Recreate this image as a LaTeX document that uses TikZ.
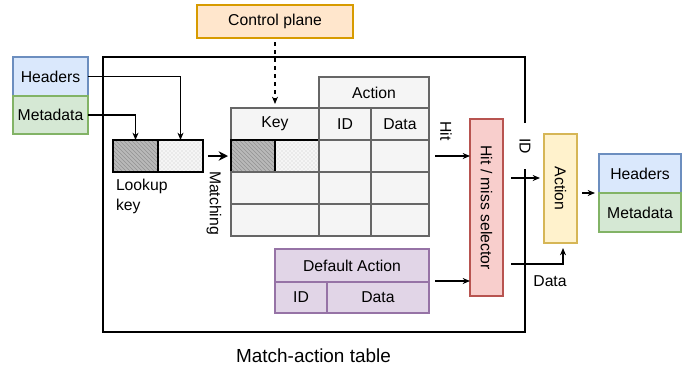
\documentclass[tikz,border=0pt]{standalone}
\usepackage{fontspec}
\setmainfont{Liberation Sans}
\usetikzlibrary{arrows.meta,patterns}
\newdimen\pxd \pxd=0.75pt
\newcommand\dfont{\fontsize{11.8pt}{14pt}\selectfont}
\definecolor{ctrlfill}{HTML}{FFE6CC}\definecolor{ctrldraw}{HTML}{D79B00}
\definecolor{blfill}{HTML}{DAE8FC}\definecolor{bldraw}{HTML}{6C8EBF}
\definecolor{grfill}{HTML}{D5E8D4}\definecolor{grdraw}{HTML}{82B366}
\definecolor{rdfill}{HTML}{F8CECC}\definecolor{rddraw}{HTML}{B85450}
\definecolor{yefill}{HTML}{FFF2CC}\definecolor{yedraw}{HTML}{D6B656}
\definecolor{pufill}{HTML}{E1D5E7}\definecolor{pudraw}{HTML}{9673A6}
\definecolor{cellfill}{HTML}{F5F5F5}\definecolor{celldraw}{HTML}{666666}
\tikzset{
  every node/.style={font=\dfont, inner sep=0pt, outer sep=0pt},
  bx/.style 2 args={draw=#1, fill=#2, line width=0.8pt},
  cell/.style={draw=celldraw, fill=cellfill, line width=0.8pt},
  arr/.style={-{Stealth[length=5.5pt,width=4.5pt]}, line width=0.8pt},
  darkhatch/.style={draw=black, line width=0.8pt, preaction={fill=gray!55}, pattern=north west lines, pattern color=gray!85},
  lightdots/.style={draw=black, line width=0.8pt, preaction={fill=gray!8}, pattern=crosshatch dots, pattern color=gray!45},
  sz/.style 2 args={minimum width=#1\pxd, minimum height=#2\pxd},
}
\begin{document}
\begin{tikzpicture}[x=\pxd, y=-\pxd]
\useasboundingbox (0,0) rectangle (685,369);

% outer match-action table frame
\coordinate (frA) at (525,123);
\coordinate (frB) at (525,169);
\draw[line width=0.8pt] (frA) -- (525,57) -- (103,57) -- (103,332) -- (525,332) -- (frB);
\node[font=\fontsize{14.2pt}{17pt}\selectfont] (matl) at (313.5,356) {Match-action table};

% control plane
\node[bx={ctrldraw}{ctrlfill}, sz={156}{33}] (ctrl) at (275,21.5) {Control plane};

% left headers / metadata
\node[bx={bldraw}{blfill}, sz={75}{39}] (hdrL) at (50.5,76.5) {Headers};
\node[bx={grdraw}{grfill}, sz={75}{38}] (metaL) at (50.5,115) {Metadata};

% lookup key
\node[darkhatch, sz={45}{32}] (lk1) at (135.5,156) {};
\node[lightdots, sz={45}{32}] (lk2) at (180.5,156) {};
\node[anchor=north west, align=left] (lkl) at (116,179) {Lookup\\[1pt]key};

% table
\node[cell, sz={110}{31}] (acth) at (374,92.5) {Action};
\node[cell, sz={88}{32}] (keyh) at (275,124) {Key};
\node[cell, sz={52}{32}] (idh) at (345,124) {ID};
\node[cell, sz={58}{32}] (dath) at (400,124) {Data};
\node[darkhatch, sz={44}{32}] (k1) at (253,156) {};
\node[lightdots, sz={44}{32}] (k2) at (297,156) {};
\node[cell, sz={52}{32}] (r1i) at (345,156) {};
\node[cell, sz={58}{32}] (r1d) at (400,156) {};
\node[cell, sz={88}{32}] (r2k) at (275,188) {};
\node[cell, sz={52}{32}] (r2i) at (345,188) {};
\node[cell, sz={58}{32}] (r2d) at (400,188) {};
\node[cell, sz={88}{32}] (r3k) at (275,220) {};
\node[cell, sz={52}{32}] (r3i) at (345,220) {};
\node[cell, sz={58}{32}] (r3d) at (400,220) {};

% default action
\node[bx={pudraw}{pufill}, sz={154}{33}] (dah) at (352,265.5) {Default Action};
\node[bx={pudraw}{pufill}, sz={52}{31}] (dai) at (301,297.5) {ID};
\node[bx={pudraw}{pufill}, sz={102}{31}] (dad) at (378,297.5) {Data};

% selector, action, right headers
\node[bx={rddraw}{rdfill}, sz={33}{177}] (sel) at (486.5,207.5) {};
\node[rotate=-90] (sell) at (sel.center) {Hit / miss selector};
\node[bx={yedraw}{yefill}, sz={33}{109}] (act) at (560.5,188.5) {};
\node[rotate=-90] (actl) at (act.center) {Action};
\node[bx={bldraw}{blfill}, sz={82}{39}] (hdrR) at (640,173.5) {Headers};
\node[bx={grdraw}{grfill}, sz={82}{39}] (metaR) at (640,212.5) {Metadata};

% connectors
\draw[arr] (hdrL.east) -| (lk2.north);
\draw[arr] (metaL.east) -| (lk1.north);
\draw[-{Stealth[length=7pt,width=7pt]}, line width=1.6pt, shorten <=5\pxd, shorten >=3\pxd] (lk2.east) -- (k1.west);
\node[rotate=-90] (matchl) at (214,203) {Matching};
\draw[arr, dashed, shorten <=4\pxd, shorten >=4\pxd] (ctrl.south) -- (keyh.north);

\coordinate (hitS) at (435,156);
\draw[arr] (hitS) -- (hitS -| sel.west);
\node[rotate=-90] (hitl) at (446,131) {Hit};
\coordinate (defS) at (435,281);
\draw[arr] (defS) -- (defS -| sel.west);

\coordinate (idS) at (511,178);
\draw[arr, shorten >=4\pxd] (idS) -- (idS -| act.west);
\node[rotate=-90] (idl) at (525,146) {ID};
\coordinate (datS) at (511,264);
\draw[arr, shorten >=5\pxd] (datS) -| ([xshift=2.5\pxd]act.south);
\node (datl) at (550,281) {Data};

\draw[arr, shorten <=5\pxd, shorten >=4\pxd] (act.east |- hdrR.south west) -- (hdrR.south west);
\end{tikzpicture}
\end{document}
